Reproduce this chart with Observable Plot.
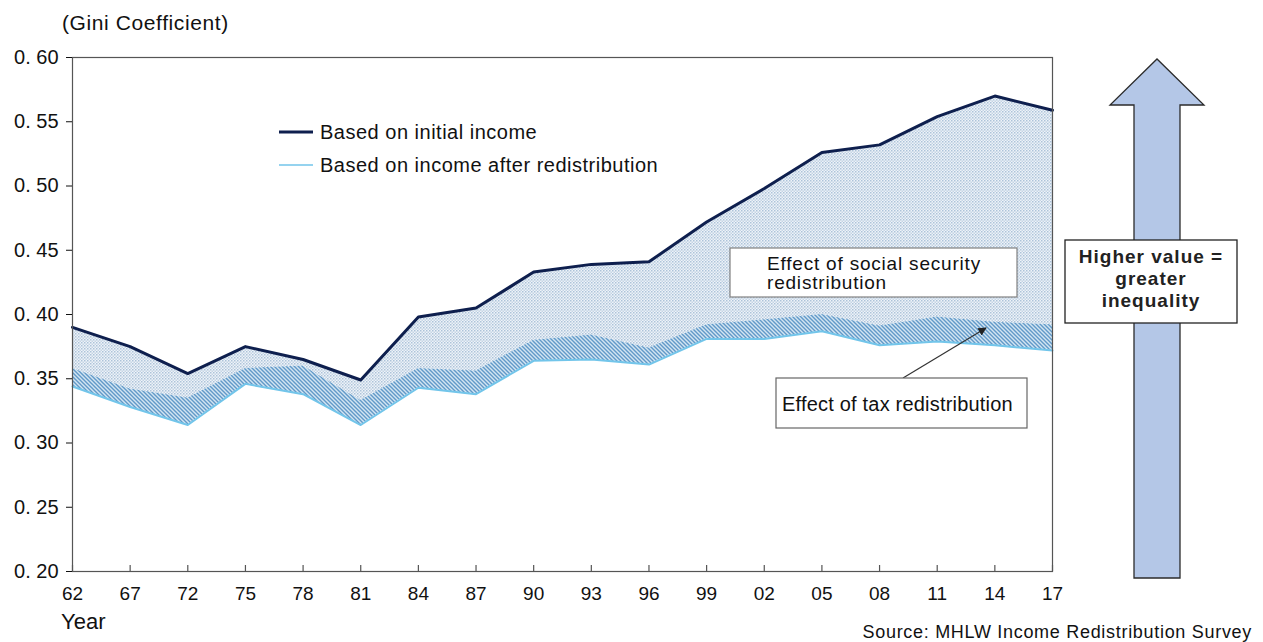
<!DOCTYPE html>
<html>
<head>
<meta charset="utf-8">
<script src="https://cdn.jsdelivr.net/npm/d3@7"></script>
<script src="https://cdn.jsdelivr.net/npm/@observablehq/plot@0.6"></script>
<style>
  html, body { margin: 0; padding: 0; background: #fff; }
  #chart { width: 1263px; height: 642px; }
  svg { font-family: "Liberation Sans", Arial, sans-serif; }
</style>
</head>
<body>
<div id="chart"></div>
<script>
// Survey years (two-digit labels) and Gini coefficients
const years = ["62","67","72","75","78","81","84","87","90","93","96","99","02","05","08","11","14","17"];
const initialIncome = [0.390,0.375,0.354,0.375,0.365,0.349,0.398,0.405,0.433,0.439,0.441,0.472,0.498,0.526,0.532,0.554,0.570,0.559];
const afterTax = [0.358,0.342,0.335,0.358,0.360,0.333,0.358,0.356,0.380,0.384,0.374,0.392,0.396,0.400,0.391,0.398,0.394,0.392];
const afterRedistribution = [0.344,0.328,0.314,0.346,0.338,0.314,0.343,0.338,0.364,0.365,0.361,0.381,0.381,0.387,0.376,0.379,0.376,0.372];
const yTicks = [0.20,0.25,0.30,0.35,0.40,0.45,0.50,0.55,0.60];

const rows = years.map((year, i) => ({
  year,
  initial: initialIncome[i],
  tax: afterTax[i],
  after: afterRedistribution[i]
}));

const NAVY = "#0e1f4e";
const LIGHT = "#72c5ea";

// Fill patterns: fine dots for the social security effect, diagonal hatch for the tax effect
const patterns = () => {
  const defs = d3.create("svg:defs");
  const dots = defs.append("pattern")
    .attr("id", "dots").attr("patternUnits", "userSpaceOnUse")
    .attr("width", 3).attr("height", 3);
  dots.append("rect").attr("width", 3).attr("height", 3).attr("fill", "#eef3f9");
  dots.append("rect").attr("width", 1.5).attr("height", 1.5).attr("fill", "#adc3d9");
  dots.append("rect").attr("x", 1.5).attr("y", 1.5).attr("width", 1.5).attr("height", 1.5).attr("fill", "#c4d4e4");
  const hatch = defs.append("pattern")
    .attr("id", "hatch").attr("patternUnits", "userSpaceOnUse")
    .attr("width", 4).attr("height", 4);
  hatch.append("rect").attr("width", 4).attr("height", 4).attr("fill", "#d3e5f2");
  hatch.append("path")
    .attr("d", "M-1,-1L5,5M3,-1L5,1M-1,3L1,5")
    .attr("stroke", "#6199c8").attr("stroke-width", 1.4);
  return defs.node();
};

const chart = Plot.plot({
  width: 1263,
  height: 642,
  marginLeft: 72,
  marginRight: 211,
  marginTop: 57,
  marginBottom: 71,
  style: { fontFamily: "Liberation Sans, Arial, sans-serif", color: "#111", background: "#fff" },
  x: { type: "point", domain: years, padding: 0, round: false },
  y: { domain: [0.2, 0.6] },
  marks: [
    patterns,
    Plot.areaY(rows, { x: "year", y1: "tax", y2: "initial", fill: "url(#dots)" }),
    Plot.areaY(rows, { x: "year", y1: "after", y2: "tax", fill: "url(#hatch)" }),
    Plot.lineY(rows, { x: "year", y: "after", stroke: LIGHT, strokeWidth: 2 }),
    Plot.lineY(rows, { x: "year", y: "initial", stroke: NAVY, strokeWidth: 3 }),
    Plot.frame({ stroke: "#555", strokeWidth: 1.2 }),
    Plot.tickX(years, { x: d => d, stroke: "#555", strokeWidth: 1.2, insetTop: 508 }),
    Plot.axisX({
      ticks: years, tickSize: 0, tickPadding: 15, fontSize: 19, label: null
    }),
    Plot.axisY({
      ticks: yTicks, tickSize: 6, tickPadding: 8, fontSize: 20, label: null,
      tickFormat: d => "0. " + String(Math.round(d * 100)).padStart(2, "0")
    })
  ]
});

document.getElementById("chart").append(chart);

const svg = d3.select(chart);
const txt = (x, y, s, size, anchor = "start", weight = "normal", spacing = 0) =>
  svg.append("text").attr("x", x).attr("y", y).attr("font-size", size)
    .attr("text-anchor", anchor).attr("font-weight", weight)
    .attr("letter-spacing", spacing).attr("fill", "#111").text(s);

// Titles
txt(62, 30, "(Gini Coefficient)", 21, "start", "normal", 0.6);
txt(61, 629, "Year", 22);
txt(1252, 638, "Source: MHLW Income Redistribution Survey", 18, "end", "normal", 0.7);

// Legend
const legend = [
  { label: "Based on initial income", color: NAVY, width: 3, y: 132 },
  { label: "Based on income after redistribution", color: LIGHT, width: 1.5, y: 165 }
];
for (const l of legend) {
  svg.append("line").attr("x1", 279).attr("x2", 313).attr("y1", l.y).attr("y2", l.y)
    .attr("stroke", l.color).attr("stroke-width", l.width);
  txt(320, l.y + 7, l.label, 20, "start", "normal", 0.5);
}

// Social security effect label
svg.append("rect").attr("x", 730).attr("y", 248).attr("width", 287).attr("height", 49)
  .attr("fill", "#fff").attr("stroke", "#808080").attr("stroke-width", 1.2);
txt(767, 270, "Effect of social security", 19, "start", "normal", 0.8);
txt(767, 289, "redistribution", 19, "start", "normal", 0.8);

// Tax effect label with pointer
svg.append("defs").append("marker")
  .attr("id", "tip").attr("viewBox", "0 0 10 10").attr("refX", 9).attr("refY", 5)
  .attr("markerWidth", 7).attr("markerHeight", 7).attr("orient", "auto")
  .append("path").attr("d", "M0,0L10,5L0,10z").attr("fill", "#222");
svg.append("line").attr("x1", 903).attr("y1", 378).attr("x2", 986).attr("y2", 328)
  .attr("stroke", "#333").attr("stroke-width", 1.2).attr("marker-end", "url(#tip)");
svg.append("rect").attr("x", 776).attr("y", 378).attr("width", 251).attr("height", 50)
  .attr("fill", "#fff").attr("stroke", "#666").attr("stroke-width", 1.2);
txt(782, 411, "Effect of tax redistribution", 20, "start", "normal", 0.2);

// Upward arrow: higher value means greater inequality
svg.append("path")
  .attr("d", "M1134,578L1134,105L1110,105L1157,59L1204,105L1180,105L1180,578Z")
  .attr("fill", "#b4c7e7").attr("stroke", "#2b2b2b").attr("stroke-width", 1.3);
svg.append("rect").attr("x", 1065).attr("y", 240).attr("width", 172).attr("height", 83)
  .attr("fill", "#fff").attr("stroke", "#222").attr("stroke-width", 1.3);
txt(1151, 263, "Higher value =", 19, "middle", "bold", 1).attr("fill", "#222");
txt(1151, 285, "greater", 19, "middle", "bold", 1).attr("fill", "#222");
txt(1151, 307, "inequality", 19, "middle", "bold", 1).attr("fill", "#222");
</script>
</body>
</html>
